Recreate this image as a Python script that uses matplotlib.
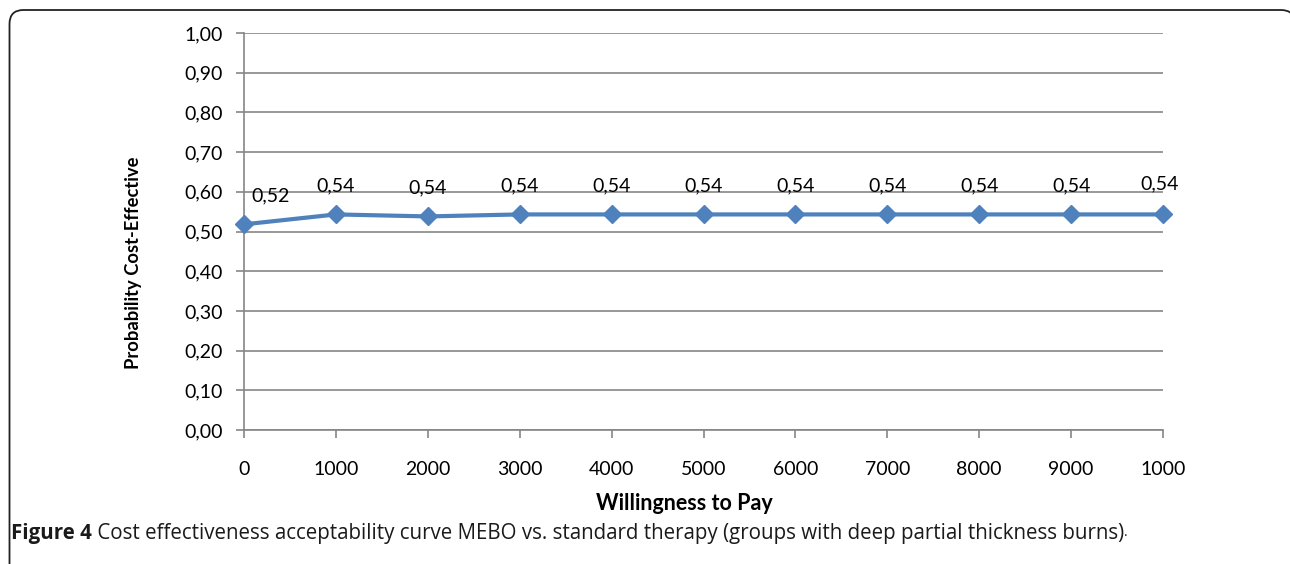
import numpy as np
import matplotlib
matplotlib.use('Agg')
import matplotlib.pyplot as plt
from matplotlib.patches import PathPatch
from matplotlib.path import Path
from matplotlib.transforms import IdentityTransform
from matplotlib.ticker import FuncFormatter

#-------------------------------------------------------------------------------
# Data
#-------------------------------------------------------------------------------
wtp_labels = ['0', '1000', '2000', '3000', '4000', '5000',
              '6000', '7000', '8000', '9000', '1000']
prob_ce    = [0.518, 0.543, 0.538, 0.543, 0.543, 0.543,
              0.543, 0.543, 0.543, 0.543, 0.543]
yticks     = [0.0, 0.1, 0.2, 0.3, 0.4, 0.5, 0.6, 0.7, 0.8, 0.9, 1.0]

caption_bold = 'Figure 4'
caption_text = (' Cost effectiveness acceptability curve MEBO vs. standard therapy '
                '(groups with deep partial thickness burns)')

#-------------------------------------------------------------------------------
# Settings
#-------------------------------------------------------------------------------
W, H, dpi = 1290, 564, 100
line_c = '#4F81BD'
grid_c = '#868686'
font   = ['Lato', 'DejaVu Sans']
cap_ff = ['Open Sans', 'DejaVu Sans']
fs     = 14

plt.rcParams['font.family'] = font

fig = plt.figure(figsize=(W/dpi, H/dpi), dpi=dpi)

#-------------------------------------------------------------------------------
# Rounded frame (pixel coords, y up); right and bottom edges run off the picture
#-------------------------------------------------------------------------------
x0, x1, ytop, rad = 9.5, 1295, H - 10, 14
verts = [(x0, -5), (x0, ytop - rad), (x0, ytop), (x0 + rad, ytop),
         (x1 - rad, ytop), (x1, ytop), (x1, ytop - rad), (x1, -5)]
codes = [Path.MOVETO, Path.LINETO, Path.CURVE3, Path.CURVE3,
         Path.LINETO, Path.CURVE3, Path.CURVE3, Path.LINETO]
fig.patches.append(PathPatch(Path(verts, codes), transform=IdentityTransform(),
                             fill=False, edgecolor='#222222', linewidth=1.3))

ax = fig.add_axes([244/W, 1-430/H, (1163-244)/W, (430-33)/H])

x = np.arange(len(wtp_labels))
ax.plot(x, prob_ce, color=line_c, linewidth=3.0, marker='D',
        markersize=9, markeredgecolor=line_c, zorder=3, clip_on=False)

for i, v in enumerate(prob_ce):
    dx = 27 if i == 0 else 0
    dy = 20
    if i == len(prob_ce) - 1:
        dx, dy = -3, 22
    ax.annotate(f'{v:.2f}'.replace('.', ','), (x[i], v),
                xytext=(dx, dy), textcoords='offset pixels',
                ha='center', va='bottom', fontsize=fs, color='black')

ax.set_xlim(0, len(wtp_labels)-1)
ax.set_ylim(0, 1)
ax.set_xticks(x)
ax.set_xticklabels(wtp_labels, fontsize=fs)
ax.set_yticks(yticks)
ax.yaxis.set_major_formatter(FuncFormatter(lambda v, p: f'{v:.2f}'.replace('.', ',')))
ax.tick_params(axis='y', labelsize=fs, length=6, color=grid_c, width=1.2, pad=9)
ax.tick_params(axis='x', labelsize=fs, length=6, color=grid_c, width=1.2, pad=16)
ax.grid(axis='y', color=grid_c, linewidth=1.2)
ax.set_axisbelow(True)
for s in ['top', 'right']:
    ax.spines[s].set_visible(False)
for s in ['left', 'bottom']:
    ax.spines[s].set_color(grid_c)
    ax.spines[s].set_linewidth(1.2)

# axis titles placed where the reference puts them
fig.text(684/W, 1-503/H, 'Willingness to Pay', fontsize=15.5, fontweight='bold',
         ha='center', va='center')
fig.text(133/W, 1-263/H, 'Probability Cost-Effective', fontsize=13.2, fontweight='bold',
         ha='center', va='center', rotation=90)

# caption: bold lead then regular text
fig.canvas.draw()
r = fig.canvas.get_renderer()
cap_y = 1 - 533/H
cap_fs = 14.8
t1 = fig.text(11/W, cap_y, caption_bold, fontsize=cap_fs, fontweight='bold',
              va='center', ha='left', family=cap_ff, color='#1a1a1a')
bb = t1.get_window_extent(renderer=r)
t2 = fig.text(bb.x1/W, cap_y, caption_text, fontsize=cap_fs, va='center', ha='left',
              family=cap_ff, color='#1a1a1a')
bb2 = t2.get_window_extent(renderer=r)
fig.text(bb2.x1/W, cap_y, '.', fontsize=10, va='center', ha='left',
         family=cap_ff, color='#1a1a1a')

fig.savefig('out.png', dpi=dpi)
